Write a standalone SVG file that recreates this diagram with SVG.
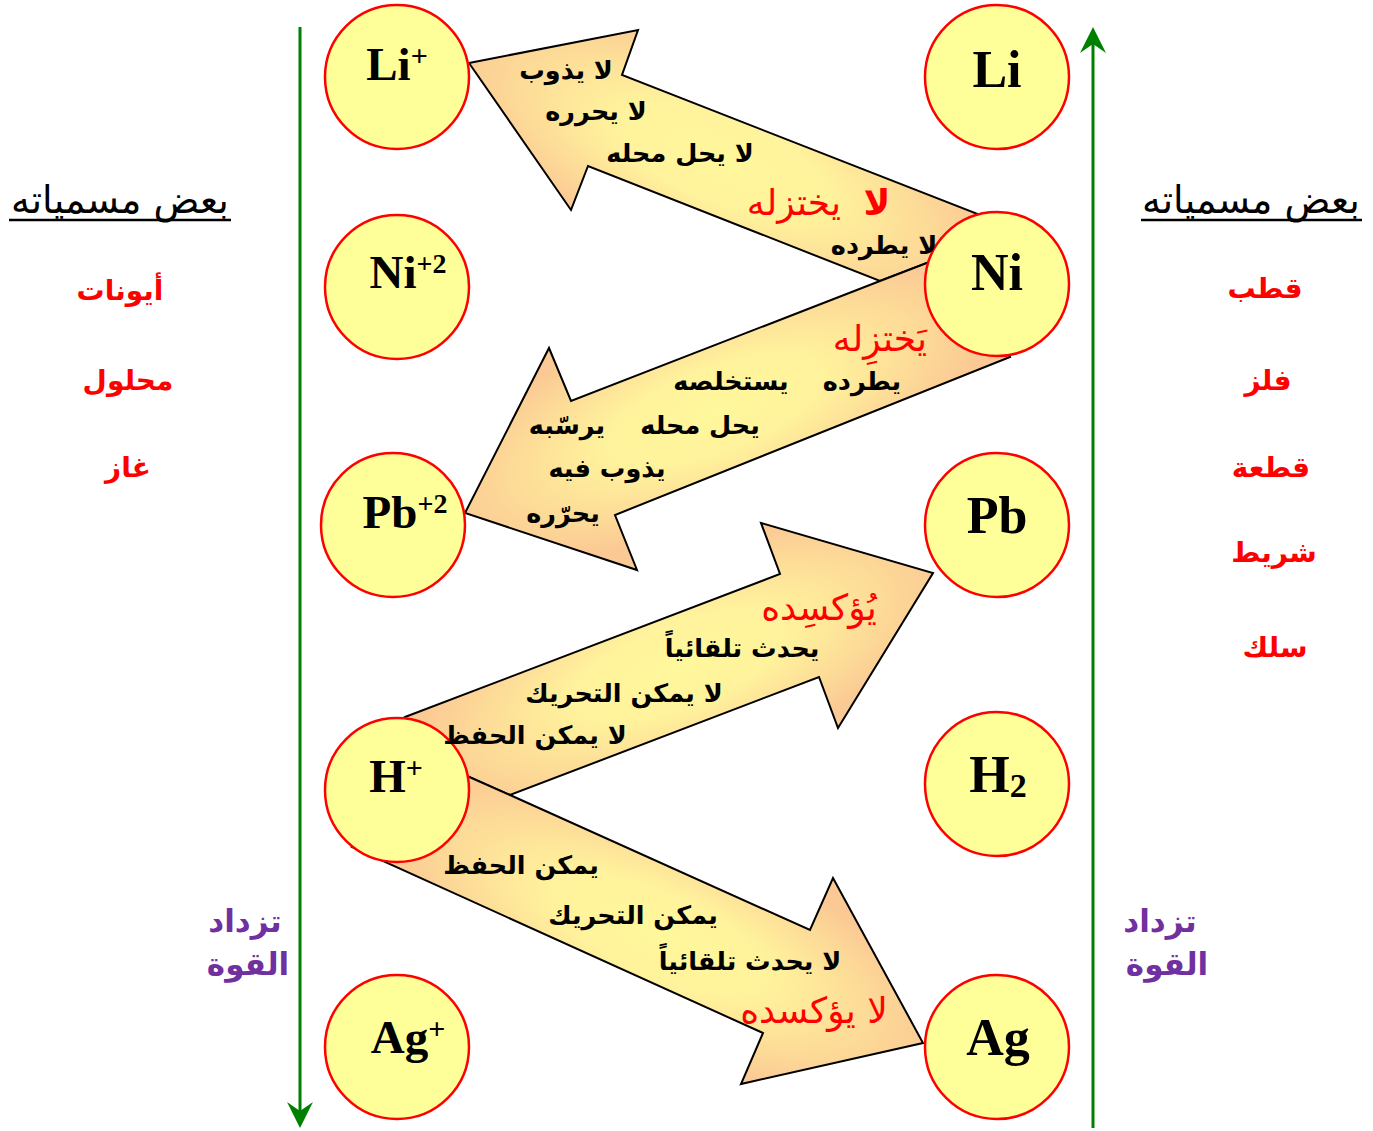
<svg xmlns="http://www.w3.org/2000/svg" width="1373" height="1131" viewBox="0 0 1373 1131">
  <style>
    .arrow { stroke: #000; stroke-width: 2; stroke-linejoin: miter; }
    .node circle { fill: #FFFF99; stroke: #FF0000; stroke-width: 2.5; }
    .sym { font-family: "Liberation Serif", serif; font-weight: bold; fill: #000; text-anchor: middle; }
    .ar { font-family: "DejaVu Sans", sans-serif; font-weight: bold; font-size: 25.5px; fill: #000; text-anchor: middle; }
    .arR { font-family: "DejaVu Sans", sans-serif; font-size: 36px; fill: #FF0000; text-anchor: middle; }
    .head { font-family: "DejaVu Sans", sans-serif; font-size: 38px; fill: #000; text-anchor: middle; }
    .name { font-family: "DejaVu Sans", sans-serif; font-weight: bold; font-size: 28px; fill: #FF0000; text-anchor: middle; }
    .pow { font-family: "DejaVu Sans", sans-serif; font-weight: bold; font-size: 31px; fill: #7030A0; text-anchor: middle; }
    .axis { stroke: #008000; stroke-width: 3; fill: none; }
  </style>
  <defs>
    <radialGradient id="g1" gradientUnits="userSpaceOnUse" cx="0" cy="0" r="1" gradientTransform="translate(722 160) rotate(22) scale(290 110)">
      <stop offset="0" stop-color="#FFF89C"/>
      <stop offset="0.4" stop-color="#FFF29C"/>
      <stop offset="1" stop-color="#FBC994"/>
    </radialGradient>
    <radialGradient id="g2" gradientUnits="userSpaceOnUse" cx="0" cy="0" r="1" gradientTransform="translate(715 410) rotate(-21) scale(290 110)">
      <stop offset="0" stop-color="#FFF89C"/>
      <stop offset="0.4" stop-color="#FFF29C"/>
      <stop offset="1" stop-color="#FBC994"/>
    </radialGradient>
    <radialGradient id="g3" gradientUnits="userSpaceOnUse" cx="0" cy="0" r="1" gradientTransform="translate(680 665) rotate(-21) scale(285 110)">
      <stop offset="0" stop-color="#FFF89C"/>
      <stop offset="0.4" stop-color="#FFF29C"/>
      <stop offset="1" stop-color="#FBC994"/>
    </radialGradient>
    <radialGradient id="g4" gradientUnits="userSpaceOnUse" cx="0" cy="0" r="1" gradientTransform="translate(660 935) rotate(24) scale(300 110)">
      <stop offset="0" stop-color="#FFF89C"/>
      <stop offset="0.4" stop-color="#FFF29C"/>
      <stop offset="1" stop-color="#FBC994"/>
    </radialGradient>
  </defs>

  <rect width="1373" height="1131" fill="#FFFFFF"/>

  <!-- vertical strength axes -->
  <g id="axes">
    <line class="axis" x1="300" y1="27" x2="300" y2="1112"/>
    <path d="M300 1128 L287 1102 L300 1111 L313 1102 Z" fill="#008000"/>
    <line class="axis" x1="1093" y1="1128" x2="1093" y2="44"/>
    <path d="M1093 27 L1080 53 L1093 44 L1106 53 Z" fill="#008000"/>
  </g>

  <!-- block arrows between species -->
  <g id="connectors">
    <polygon id="arrow-ni-li" class="arrow" fill="url(#g1)" points="469,63 638,30 622,75 988,218 945,256 880,281 588,166 571,210"/>
    <polygon id="arrow-ni-pb" class="arrow" fill="url(#g2)" points="465,513 549,348 571,401 880,281 945,256 1010,357 615,515 637,570"/>
    <polygon id="arrow-h-pb" class="arrow" fill="url(#g3)" points="405,717 780,574 761,523 933,573 838,728 819,677 510,795 440,764"/>
    <polygon id="arrow-h-ag" class="arrow" fill="url(#g4)" points="440,764 510,795 810,930 833,878 923,1043 741,1084 763,1033 352,847"/>
  </g>

  <!-- ions (left column) -->
  <g id="node-li-ion" class="node">
    <circle cx="397" cy="77" r="72"/>
    <text class="sym" x="397" y="80" font-size="47">Li<tspan font-size="30" dy="-14">+</tspan></text>
  </g>
  <g id="node-ni-ion" class="node">
    <circle cx="397" cy="287" r="72"/>
    <text class="sym" x="408" y="288" font-size="47">Ni<tspan font-size="28" dy="-15">+2</tspan></text>
  </g>
  <g id="node-pb-ion" class="node">
    <circle cx="393" cy="525" r="72"/>
    <text class="sym" x="405" y="528" font-size="47">Pb<tspan font-size="28" dy="-15">+2</tspan></text>
  </g>
  <g id="node-h-ion" class="node">
    <circle cx="397" cy="790" r="72"/>
    <text class="sym" x="396" y="792" font-size="47">H<tspan font-size="30" dy="-14">+</tspan></text>
  </g>
  <g id="node-ag-ion" class="node">
    <circle cx="397" cy="1047" r="72"/>
    <text class="sym" x="408" y="1053" font-size="47">Ag<tspan font-size="30" dy="-14">+</tspan></text>
  </g>

  <!-- elements (right column) -->
  <g id="node-li" class="node">
    <circle cx="997" cy="77" r="72"/>
    <text class="sym" x="997" y="87" font-size="52">Li</text>
  </g>
  <g id="node-ni" class="node">
    <circle cx="997" cy="284" r="72"/>
    <text class="sym" x="997" y="290" font-size="52">Ni</text>
  </g>
  <g id="node-pb" class="node">
    <circle cx="997" cy="525" r="72"/>
    <text class="sym" x="997" y="533" font-size="52">Pb</text>
  </g>
  <g id="node-h2" class="node">
    <circle cx="997" cy="784" r="72"/>
    <text class="sym" x="998" y="792" font-size="52">H<tspan font-size="34" dy="5">2</tspan></text>
  </g>
  <g id="node-ag" class="node">
    <circle cx="997" cy="1047" r="72"/>
    <text class="sym" x="998" y="1055" font-size="52">Ag</text>
  </g>

  <!-- labels on arrow Ni -> Li+ -->
  <g id="labels-ni-li">
    <text class="ar" x="566" y="79">لا يذوب</text>
    <text class="ar" x="596" y="120">لا يحرره</text>
    <text class="ar" x="680" y="162">لا يحل محله</text>
    <text class="arR" x="877" y="215" font-weight="bold">لا</text>
    <text class="arR" x="794" y="215">يختزله</text>
    <text class="ar" x="884" y="254">لا يطرده</text>
  </g>

  <!-- labels on arrow Ni -> Pb+2 -->
  <g id="labels-ni-pb">
    <text class="arR" x="880" y="351">يَختزِله</text>
    <text class="ar" x="862" y="390">يطرده</text>
    <text class="ar" x="731" y="390">يستخلصه</text>
    <text class="ar" x="700" y="434">يحل محله</text>
    <text class="ar" x="567" y="434">يرسّبه</text>
    <text class="ar" x="607" y="477">يذوب فيه</text>
    <text class="ar" x="563" y="522">يحرّره</text>
  </g>

  <!-- labels on arrow H+ -> Pb -->
  <g id="labels-h-pb">
    <text class="arR" x="819" y="620">يُؤكسِده</text>
    <text class="ar" x="742" y="657">يحدث تلقائياً</text>
    <text class="ar" x="624" y="702">لا يمكن التحريك</text>
    <text class="ar" x="535" y="744">لا يمكن الحفظ</text>
  </g>

  <!-- labels on arrow H+ -> Ag -->
  <g id="labels-h-ag">
    <text class="ar" x="521" y="874">يمكن الحفظ</text>
    <text class="ar" x="633" y="924">يمكن التحريك</text>
    <text class="ar" x="750" y="970">لا يحدث تلقائياً</text>
    <text class="arR" x="814" y="1023">لا يؤكسده</text>
  </g>

  <!-- side column: ions -->
  <g id="names-left">
    <text class="head" x="120" y="213">بعض مسمياته</text>
    <line x1="9" y1="220" x2="231" y2="220" stroke="#000" stroke-width="2.5"/>
    <text class="name" x="120" y="300">أيونات</text>
    <text class="name" x="128" y="390">محلول</text>
    <text class="name" x="128" y="477">غاز</text>
    <text class="pow" x="245" y="932">تزداد</text>
    <text class="pow" x="248" y="975">القوة</text>
  </g>

  <!-- side column: elements -->
  <g id="names-right">
    <text class="head" x="1251" y="213">بعض مسمياته</text>
    <line x1="1141" y1="220" x2="1362" y2="220" stroke="#000" stroke-width="2.5"/>
    <text class="name" x="1265" y="298">قطب</text>
    <text class="name" x="1268" y="390">فلز</text>
    <text class="name" x="1271" y="477">قطعة</text>
    <text class="name" x="1274" y="562">شريط</text>
    <text class="name" x="1275" y="657">سلك</text>
    <text class="pow" x="1160" y="932">تزداد</text>
    <text class="pow" x="1167" y="975">القوة</text>
  </g>
</svg>
